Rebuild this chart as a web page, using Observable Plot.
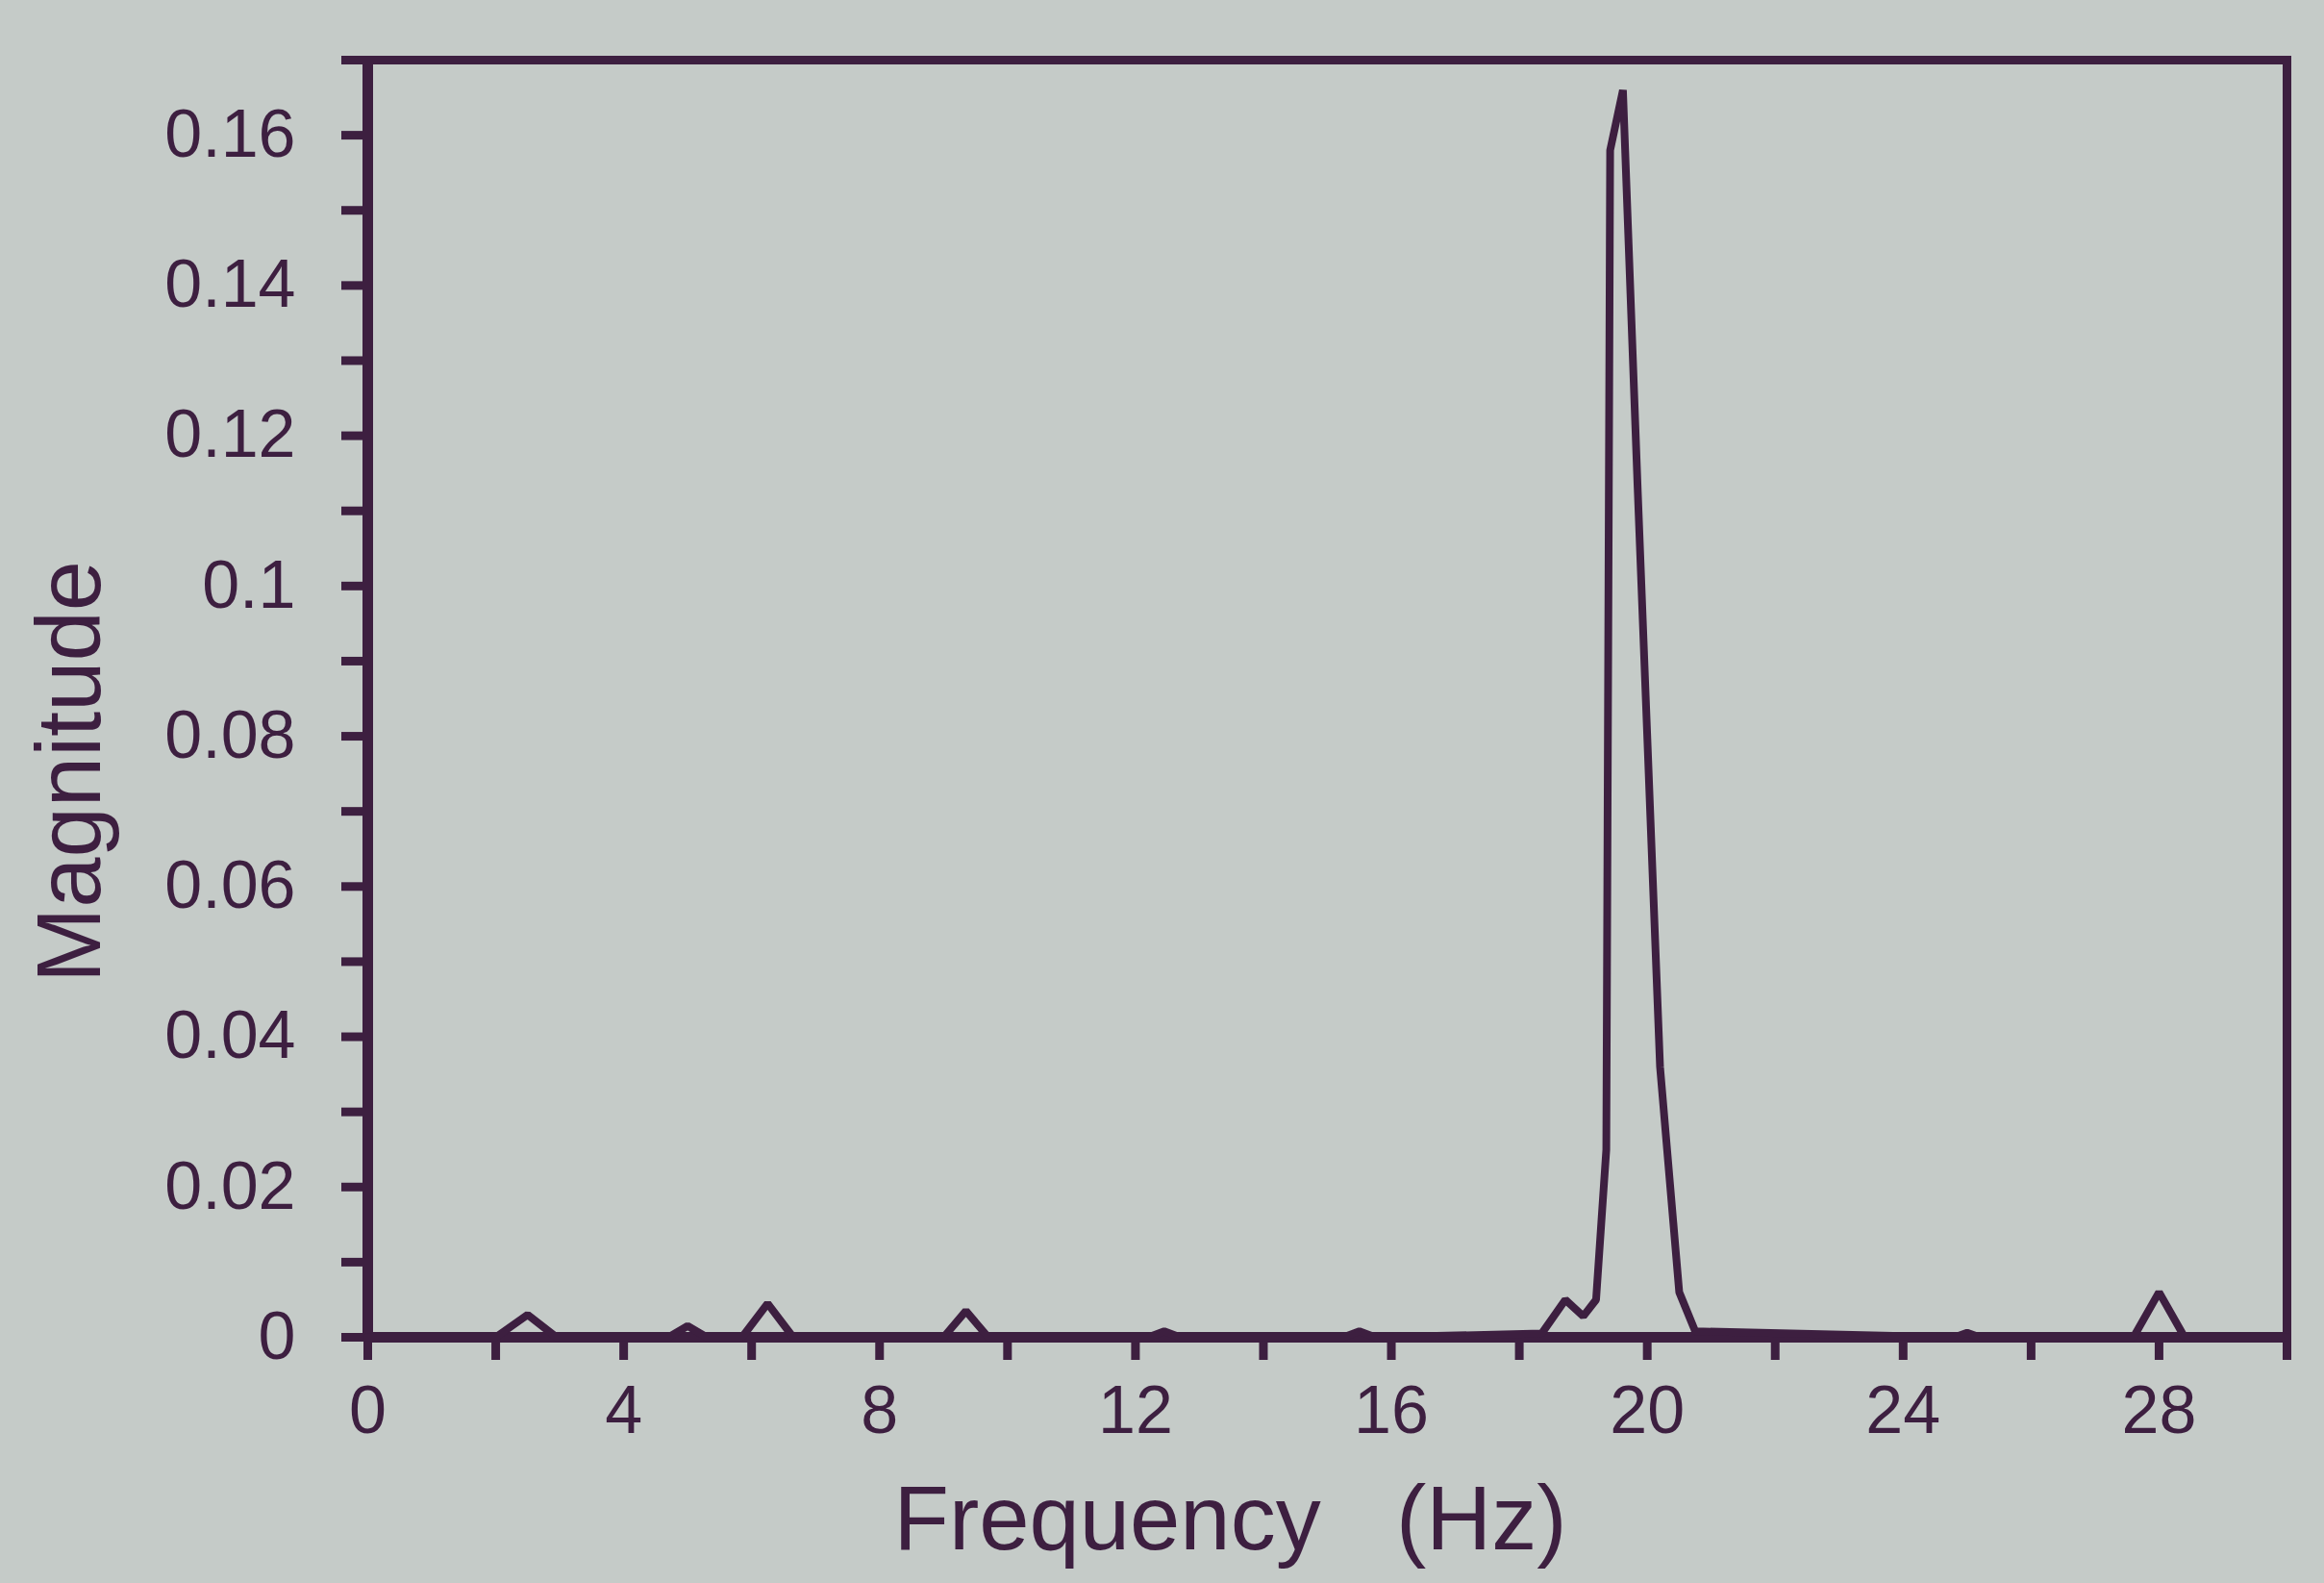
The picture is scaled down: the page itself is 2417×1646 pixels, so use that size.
<!DOCTYPE html>
<html><head><meta charset="utf-8">
<script src="https://cdn.jsdelivr.net/npm/d3@7"></script>
<script src="https://cdn.jsdelivr.net/npm/@observablehq/plot@0.6"></script>
<style>html,body{margin:0;padding:0;background:#c5cbc8;}</style>
</head><body><div id="chart"></div>
<script>
const freqHz = [0, 2.0, 2.5, 2.95, 4.7, 5.0, 5.3, 5.85, 6.25, 6.65, 9.0, 9.35, 9.7, 12.2, 12.45, 12.7, 15.25, 15.5, 15.75, 18.35, 18.72, 19.0, 19.2, 19.36, 19.42, 19.62, 19.85, 20.05, 20.2, 20.5, 20.75, 24.8, 25.0, 25.2, 27.6, 28.0, 28.4, 30];
const magnitude = [0, 0, 0.003, 0, 0, 0.0015, 0, 0, 0.0045, 0, 0, 0.0035, 0, 0, 0.0008, 0, 0, 0.0008, 0, 0.0005, 0.005, 0.0028, 0.005, 0.025, 0.158, 0.166, 0.113, 0.069, 0.036, 0.006, 0.0008, 0, 0.0006, 0, 0, 0.006, 0, 0];
const xTicks = [0, 2, 4, 6, 8, 10, 12, 14, 16, 18, 20, 22, 24, 26, 28, 30];
const xTickLabels = ["0", "", "4", "", "8", "", "12", "", "16", "", "20", "", "24", "", "28", ""];
const yTicks = [0, 0.01, 0.02, 0.03, 0.04, 0.05, 0.06, 0.07, 0.08, 0.09, 0.1, 0.11, 0.12, 0.13, 0.14, 0.15, 0.16, 0.17];
const yTickLabels = ["0", "", "0.02", "", "0.04", "", "0.06", "", "0.08", "", "0.1", "", "0.12", "", "0.14", "", "0.16", ""];
const xTitle = "Frequency\u00a0\u00a0\u00a0(Hz)";
const yTitle = "Magnitude";

const data = freqHz.map((f, i) => ({f, m: magnitude[i]}));
const xLab = new Map(xTicks.map((t, i) => [t, xTickLabels[i]]));
const yLab = new Map(yTicks.map((t, i) => [t, yTickLabels[i]]));
const ink = "#3d1f40";
const bg = "#c5cbc8";

const chart = Plot.plot({
  width: 2417, height: 1646,
  marginLeft: 382, marginRight: 39, marginTop: 62, marginBottom: 256,
  style: {background: bg, color: ink, fontFamily: "'Liberation Sans', Arial, sans-serif"},
  x: {domain: [0, 30]},
  y: {domain: [0, 0.17]},
  marks: [
    Plot.frame({stroke: ink, strokeWidth: 9}),
    Plot.axisX(xTicks, {tickSize: 24, tickPadding: 26, strokeWidth: 9, fontSize: 70, tickFormat: d => xLab.get(d), label: null, stroke: ink, fill: ink}),
    Plot.axisY(yTicks, {tickSize: 27, tickPadding: 48, strokeWidth: 9, fontSize: 70, tickFormat: d => yLab.get(d), label: null, stroke: ink, fill: ink}),
    Plot.ruleX([0], {stroke: ink, strokeWidth: 11}),
    Plot.ruleY([0], {stroke: ink, strokeWidth: 11}),
    Plot.line(data, {x: "f", y: "m", stroke: ink, strokeWidth: 8, strokeLinejoin: "miter"}),
    Plot.text([yTitle], {frameAnchor: "left", textAnchor: "middle", lineAnchor: "middle", dx: -309, dy: 76, rotate: -90, fontSize: 94, fill: ink}),
    Plot.text([xTitle], {frameAnchor: "bottom", textAnchor: "middle", lineAnchor: "middle", dx: -101, dy: 190, fontSize: 94, fill: ink})
  ]
});
document.getElementById("chart").appendChild(chart);
</script>
</body></html>
